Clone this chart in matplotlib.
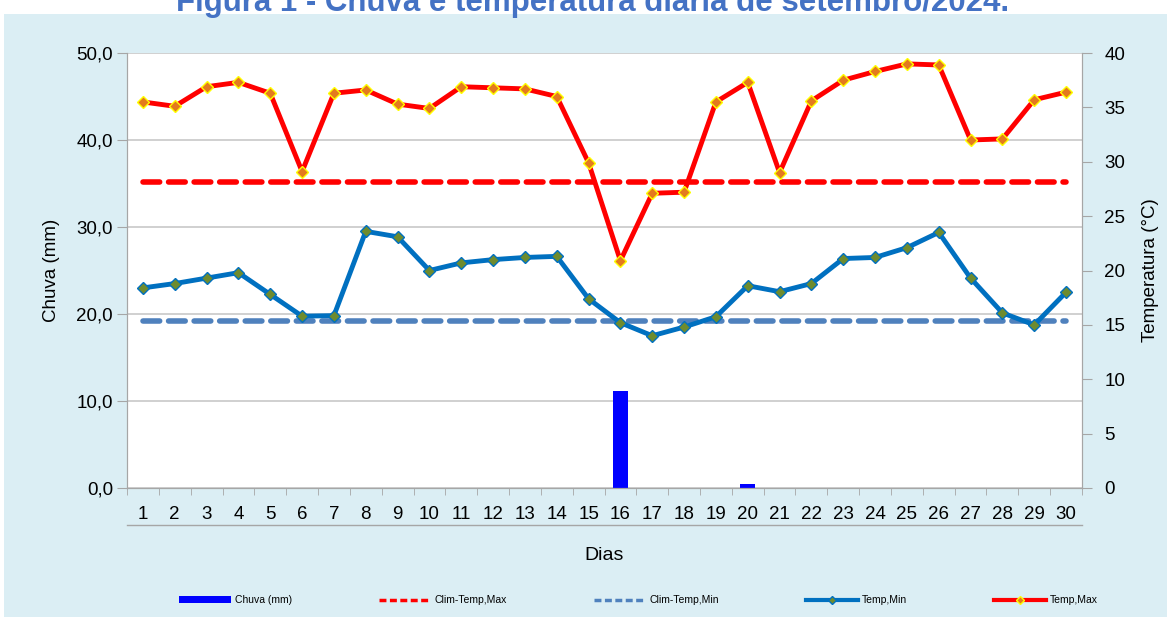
import matplotlib.pyplot as plt
from matplotlib.lines import Line2D
from matplotlib.patches import Patch, Rectangle
from matplotlib.ticker import FuncFormatter, MultipleLocator
import numpy as np

plt.rcParams["font.family"] = ["Liberation Sans", "DejaVu Sans"]

days = list(range(1, 31))
chuva = [0, 0, 0, 0, 0, 0, 0, 0, 0, 0, 0, 0, 0, 0, 0,
         11.2, 0, 0, 0, 0.5, 0, 0, 0, 0, 0, 0, 0, 0, 0, 0]
temp_max = [35.5, 35.1, 36.9, 37.3, 36.3, 29.1, 36.3, 36.6, 35.3, 34.9,
            36.9, 36.8, 36.7, 36.0, 29.9, 20.9, 27.1, 27.2, 35.5, 37.3,
            29.0, 35.6, 37.5, 38.3, 39.0, 38.9, 32.0, 32.1, 35.7, 36.4]
temp_min = [18.4, 18.8, 19.3, 19.8, 17.8, 15.8, 15.85, 23.6, 23.1, 20.0,
            20.7, 21.0, 21.2, 21.3, 17.4, 15.2, 14.0, 14.8, 15.75, 18.6,
            18.05, 18.8, 21.1, 21.2, 22.1, 23.5, 19.3, 16.1, 15.0, 18.0]
clim_max = 28.1
clim_min = 15.4

bg = "#DBEEF4"
red = "#FF0000"
blue_line = "#0070C0"
blue_dash = "#4F81BD"
gray = "#A6A6A6"

fig = plt.figure(figsize=(11.67, 6.17), dpi=100, facecolor="white")
fig.patches.append(Rectangle((4 / 1167, 0), 1, 1 - 14 / 617, transform=fig.transFigure,
                             facecolor=bg, edgecolor="none", zorder=-10))
fig.text(0.508, 1 - 10.5 / 617, "Figura 1 - Chuva e temperatura diária de setembro/2024.",
         ha="center", va="baseline", fontsize=22.5, fontweight="bold", color="#4472C4")

ax = fig.add_axes([127 / 1167, 129 / 617, 955 / 1167, 435 / 617])
ax.set_facecolor("white")
x = np.arange(len(days))
ax.bar(x, chuva, width=0.47, color="#0000FF", zorder=2)
ax.set_xlim(-0.5, len(days) - 0.5)
ax.set_ylim(0, 50)
ax.yaxis.set_major_locator(MultipleLocator(10))
ax.yaxis.set_major_formatter(FuncFormatter(lambda v, p: f"{v:.1f}".replace(".", ",")))
ax.grid(axis="y", color="#C8C8C8", linewidth=1.2, zorder=0)
ax.set_axisbelow(True)
ax.set_xticks(x)
ax.set_xticklabels([str(d) for d in days])
ax.set_xticks(np.arange(-0.5, len(days)), minor=True)
ax.tick_params(axis="x", which="major", length=0, labelsize=13.5, pad=13)
ax.tick_params(axis="x", which="minor", length=5, color=gray)
ax.tick_params(axis="y", length=7, color=gray, labelsize=13.5, pad=3)
for side in ["left", "bottom", "right", "top"]:
    ax.spines[side].set_color(gray)
ax.spines["top"].set_visible(False)
ax.set_ylabel("Chuva (mm)", fontsize=13.5, labelpad=12)
ax.set_xlabel("Dias", fontsize=14, labelpad=17)
# separator line under the day labels
ax.add_line(Line2D([0, 1], [-37 / 435, -37 / 435], transform=ax.transAxes,
                   color=gray, linewidth=1, clip_on=False))

ax2 = ax.twinx()
ax2.set_ylim(0, 40)
ax2.yaxis.set_major_locator(MultipleLocator(5))
ax2.tick_params(axis="y", length=7, color=gray, labelsize=13.5, pad=9)
for side in ["left", "bottom", "right", "top"]:
    ax2.spines[side].set_color(gray)
ax2.spines["top"].set_visible(False)
ax2.set_ylabel("Temperatura (°C)", fontsize=13.5, labelpad=12)

ax2.plot([x[0], x[-1]], [clim_max, clim_max], color=red, linewidth=4,
         linestyle=(0, (3, 1.6)), dash_capstyle="round")
ax2.plot([x[0], x[-1]], [clim_min, clim_min], color=blue_dash, linewidth=4,
         linestyle=(0, (3, 1.6)), dash_capstyle="round")
ax2.plot(x, temp_min, color=blue_line, linewidth=3.5, marker="D", markersize=6,
         markerfacecolor="#6E8B2E", markeredgecolor=blue_line, markeredgewidth=1)
ax2.plot(x, temp_max, color=red, linewidth=3.5, marker="D", markersize=6,
         markerfacecolor="#E37A1E", markeredgecolor="#FFFF00", markeredgewidth=1)

handles = [
    Patch(facecolor="#0000FF", label="Chuva (mm)"),
    Line2D([], [], color=red, linewidth=2.5, linestyle=(0, (2, 1)), label="Clim-Temp,Max"),
    Line2D([], [], color=blue_dash, linewidth=2.5, linestyle=(0, (2, 1)), label="Clim-Temp,Min"),
    Line2D([], [], color=blue_line, linewidth=3, marker="D", markersize=4,
           markerfacecolor="#6E8B2E", markeredgecolor=blue_line, label="Temp,Min"),
    Line2D([], [], color=red, linewidth=3, marker="D", markersize=4,
           markerfacecolor="#E37A1E", markeredgecolor="#FFFF00", label="Temp,Max"),
]
fig.legend(handles=handles, loc="center", bbox_to_anchor=(0.547, 17 / 617),
           ncol=5, frameon=False, fontsize=7.5, handlelength=5, handleheight=0.6,
           columnspacing=8.3, handletextpad=0.4)

fig.savefig("out.png", dpi=100, facecolor="white")
